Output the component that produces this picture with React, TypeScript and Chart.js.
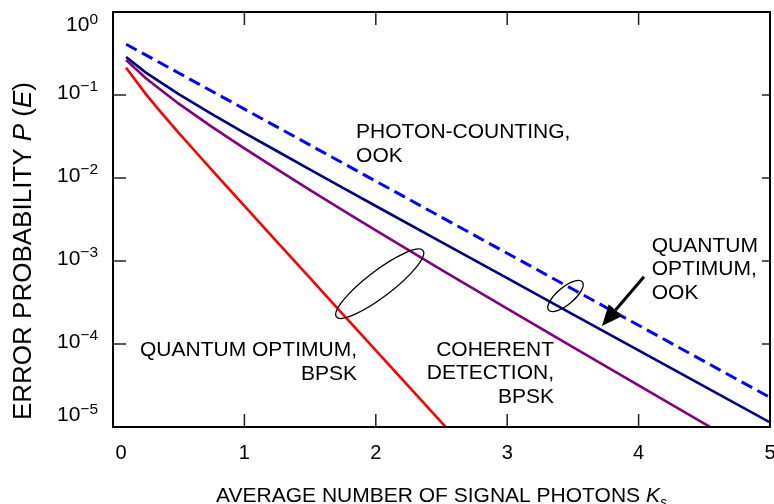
import { useEffect, useRef } from "react";
import { Chart, registerables } from "chart.js";
Chart.register(...registerables);

// ---- data ----
const xTicks = [0, 1, 2, 3, 4, 5];
const yTickExponents = [0, -1, -2, -3, -4, -5];

const photonCountingK = [0.1, 0.5, 1, 1.5, 2, 2.5, 3, 3.5, 4, 4.5, 5];
const photonCountingP = [0.409, 0.184, 0.0677, 0.0249, 0.00916, 0.00337, 0.00124, 4.56e-4, 1.68e-4, 6.17e-5, 2.27e-5];

const quantumOokK = [0.1, 0.25, 0.5, 0.75, 1, 1.25, 1.5, 1.75, 2, 2.5, 3, 3.5, 4, 4.5, 5];
const quantumOokP = [0.287, 0.186, 0.1025, 0.0593, 0.035, 0.021, 0.0126, 0.00761, 0.0046, 0.00169, 6.2e-4, 2.28e-4, 8.39e-5, 3.09e-5, 1.135e-5];

const coherentBpskK = [0.1, 0.25, 0.5, 0.75, 1, 1.25, 1.5, 1.75, 2, 2.5, 3, 3.5, 4, 4.5, 5];
const coherentBpskP = [0.264, 0.159, 0.0786, 0.0416, 0.0228, 0.0127, 0.00715, 0.00407, 0.00234, 7.83e-4, 2.66e-4, 9.14e-5, 3.17e-5, 1.1e-5, 3.87e-6];

const quantumBpskK = [0.1, 0.25, 0.375, 0.5, 0.625, 0.75, 0.875, 1, 1.25, 1.5, 1.75, 2, 2.25, 2.5, 2.75];
const quantumBpskP = [0.213, 0.1025, 0.0593, 0.035, 0.021, 0.0126, 0.00761, 0.0046, 0.00169, 6.2e-4, 2.28e-4, 8.39e-5, 3.09e-5, 1.135e-5, 4.18e-6];

// annotation texts and anchors (K, log10 P)
const labelTexts = [
  ["PHOTON-COUNTING,", "OOK"],
  ["QUANTUM OPTIMUM,", "BPSK"],
  ["COHERENT", "DETECTION,", "BPSK"],
  ["QUANTUM", "OPTIMUM,", "OOK"],
];
const labelK = [1.85, 1.857, 3.356, 4.1];
const labelLogP = [-1.52, -4.146, -4.142, -2.888];
const labelAlign: CanvasTextAlign[] = ["left", "right", "right", "left"];

const ellipseK = [3.444, 2.03];
const ellipseLogP = [-3.422, -3.274];
const ellipseRx = [22, 54.5];
const ellipseRy = [8.5, 13];
const ellipseRotDeg = [-40, -37.4];

const arrowFrom = [4.041, -3.19];
const arrowTo = [3.721, -3.784];

const FONT = '"Liberation Sans", Arial, Helvetica, sans-serif';

type Part = { t: string; s: number; i?: boolean; dy?: number };

function partsWidth(ctx: CanvasRenderingContext2D, parts: Part[]) {
  let w = 0;
  for (const p of parts) {
    ctx.font = `${p.i ? "italic " : ""}${p.s}px ${FONT}`;
    w += ctx.measureText(p.t).width;
  }
  return w;
}
function drawParts(ctx: CanvasRenderingContext2D, parts: Part[], x: number, y: number) {
  let cx = x;
  ctx.textAlign = "left";
  ctx.textBaseline = "alphabetic";
  for (const p of parts) {
    ctx.font = `${p.i ? "italic " : ""}${p.s}px ${FONT}`;
    ctx.fillText(p.t, cx, y + (p.dy || 0));
    cx += ctx.measureText(p.t).width;
  }
}

const decorPlugin = {
  id: "decor",
  afterDraw(chart: any) {
    const { ctx, chartArea: a, scales } = chart;
    const xs = scales.x;
    const ys = scales.y;
    const px = (k: number) => xs.getPixelForValue(k);
    const py = (lp: number) => ys.getPixelForValue(Math.pow(10, lp));
    ctx.save();

    // ticks
    ctx.strokeStyle = "#222";
    ctx.lineWidth = 1.5;
    ctx.beginPath();
    for (const v of xTicks) {
      const X = px(v);
      if (v > xTicks[0] && v < xTicks[xTicks.length - 1]) {
        ctx.moveTo(X, a.bottom);
        ctx.lineTo(X, a.bottom - 13);
        ctx.moveTo(X, a.top);
        ctx.lineTo(X, a.top + 13);
      }
    }
    for (const e of yTickExponents) {
      const Y = py(e);
      if (e < 0 && e > -5) {
        ctx.moveTo(a.left, Y);
        ctx.lineTo(a.left + 13, Y);
        ctx.moveTo(a.right, Y);
        ctx.lineTo(a.right - 8, Y);
      }
    }
    ctx.stroke();

    // frame
    ctx.strokeStyle = "#000";
    ctx.lineWidth = 2;
    ctx.strokeRect(a.left, a.top, a.right - a.left, a.bottom - a.top);

    ctx.fillStyle = "#000";
    // x tick labels
    ctx.font = `20px ${FONT}`;
    ctx.textBaseline = "alphabetic";
    xTicks.forEach((v, i) => {
      if (i === 0) {
        ctx.textAlign = "left";
        ctx.fillText(String(v), a.left + 2.5, a.bottom + 31.5);
      } else {
        ctx.textAlign = "center";
        ctx.fillText(String(v), px(v), a.bottom + 31.5);
      }
    });

    // y tick labels 10^e
    yTickExponents.forEach((e, i) => {
      const Y = py(e);
      let base = Y + 3.8;
      if (i === 0) base = Y + 19.4;
      if (i === yTickExponents.length - 1) base = Y - 6;
      const expStr = e === 0 ? "0" : "\u2212" + Math.abs(e);
      ctx.font = `15.5px ${FONT}`;
      const ew = ctx.measureText(expStr).width;
      ctx.font = `21px ${FONT}`;
      const mw = ctx.measureText("10").width;
      const right = a.left - 15;
      ctx.textAlign = "left";
      ctx.fillText("10", right - ew - mw, base);
      ctx.font = `15.5px ${FONT}`;
      ctx.fillText(expStr, right - ew, base - 7.5);
    });

    // x title
    const xt: Part[] = [
      { t: "AVERAGE NUMBER OF SIGNAL PHOTONS ", s: 21 },
      { t: "K", s: 21, i: true },
      { t: "s", s: 14, i: true, dy: 5 },
    ];
    const xw = partsWidth(ctx, xt);
    drawParts(ctx, xt, (a.left + a.right) / 2 - xw / 2, a.bottom + 75);

    // y title
    const yt: Part[] = [
      { t: "ERROR PROBABILITY ", s: 26 },
      { t: "P", s: 26, i: true },
      { t: " (", s: 26 },
      { t: "E", s: 26, i: true },
      { t: ")", s: 26 },
    ];
    const yw = partsWidth(ctx, yt);
    ctx.save();
    ctx.translate(31, a.bottom - 176);
    ctx.rotate(-Math.PI / 2);
    drawParts(ctx, yt, -yw / 2, 0);
    ctx.restore();

    // annotation labels
    ctx.font = `21px ${FONT}`;
    labelTexts.forEach((lines, i) => {
      ctx.textAlign = labelAlign[i];
      const X = px(labelK[i]);
      const Y = py(labelLogP[i]);
      lines.forEach((ln, j) => ctx.fillText(ln, X, Y + j * 23.5));
    });

    // ellipses
    ctx.strokeStyle = "#000";
    ctx.lineWidth = 1.3;
    ellipseK.forEach((k, i) => {
      ctx.beginPath();
      ctx.ellipse(px(k), py(ellipseLogP[i]), ellipseRx[i], ellipseRy[i], (ellipseRotDeg[i] * Math.PI) / 180, 0, Math.PI * 2);
      ctx.stroke();
    });

    // arrow
    const x0 = px(arrowFrom[0]);
    const y0 = py(arrowFrom[1]);
    const x1 = px(arrowTo[0]);
    const y1 = py(arrowTo[1]);
    const ang = Math.atan2(y1 - y0, x1 - x0);
    const hl = 21;
    const hw = 9;
    const bx = x1 - hl * Math.cos(ang);
    const by = y1 - hl * Math.sin(ang);
    ctx.lineWidth = 3;
    ctx.beginPath();
    ctx.moveTo(x0, y0);
    ctx.lineTo(bx, by);
    ctx.stroke();
    ctx.beginPath();
    ctx.moveTo(x1, y1);
    ctx.lineTo(bx + hw * Math.sin(ang), by - hw * Math.cos(ang));
    ctx.lineTo(bx - hw * Math.sin(ang), by + hw * Math.cos(ang));
    ctx.closePath();
    ctx.fill();

    ctx.restore();
  },
};

function pts(k: number[], p: number[]) {
  return k.map((v, i) => ({ x: v, y: p[i] }));
}

export default function App() {
  const ref = useRef<HTMLCanvasElement | null>(null);
  useEffect(() => {
    if (!ref.current) return;
    const chart = new Chart(ref.current, {
      type: "line",
      data: {
        datasets: [
          { data: pts(photonCountingK, photonCountingP), borderColor: "rgb(0,0,255)", borderWidth: 3, borderDash: [12, 6] },
          { data: pts(quantumOokK, quantumOokP), borderColor: "rgb(0,0,128)", borderWidth: 2.6 },
          { data: pts(coherentBpskK, coherentBpskP), borderColor: "rgb(128,0,128)", borderWidth: 2.6 },
          { data: pts(quantumBpskK, quantumBpskP), borderColor: "rgb(255,0,0)", borderWidth: 2.6 },
        ].map((d) => ({ ...d, pointRadius: 0, tension: 0, fill: false, clip: 0 })) as any,
      },
      options: {
        animation: false,
        responsive: false,
        devicePixelRatio: 1,
        layout: { padding: { left: 113, right: 4, top: 12, bottom: 77 } },
        plugins: { legend: { display: false }, tooltip: { enabled: false } },
        scales: {
          x: { type: "linear", min: 0, max: 5, display: false },
          y: { type: "logarithmic", min: 1e-5, max: 1, display: false },
        },
      },
      plugins: [decorPlugin],
    });
    return () => chart.destroy();
  }, []);
  return (
    <div style={{ position: "fixed", left: 0, top: 0, width: 774, height: 504, background: "#fff" }}>
      <canvas ref={ref} width={774} height={504} />
    </div>
  );
}
